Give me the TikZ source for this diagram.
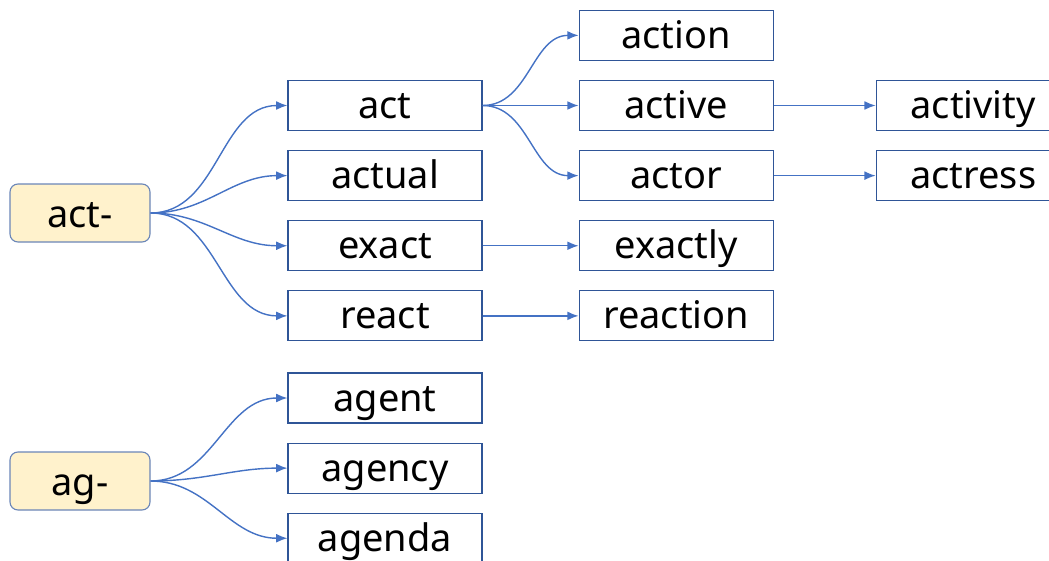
\documentclass[tikz,border=0pt]{standalone}
\usepackage{fontspec}
\setmainfont{Noto Sans}
\usepackage{xcolor}
\usepackage{tikz}
\usetikzlibrary{positioning, arrows.meta}

\definecolor{rootfill}{HTML}{FFF2CC}
\definecolor{rootline}{HTML}{6A86B8}
\definecolor{boxline}{HTML}{2F5597}
\definecolor{linkblue}{HTML}{4472C4}

\begin{document}
\begin{tikzpicture}[>={Latex[length=2.8mm,width=2.2mm]}, node distance=0.475cm,
  word/.style={draw=boxline,line width=0.8pt,minimum width=4.85cm,minimum height=1.25cm,inner sep=0pt,text height=0.75cm,text depth=0.1cm,align=center,font=\fontsize{27}{32}\selectfont},
  root/.style={draw=rootline,fill=rootfill,line width=0.8pt,rounded corners=0.2cm,minimum width=3.5cm,minimum height=1.45cm,inner sep=0pt,text height=0.8cm,text depth=0.1cm,font=\fontsize{27}{32}\selectfont},
  link/.style={->,draw=linkblue,line width=1pt}]
  \useasboundingbox (0,0) rectangle (26.225,-14.025);
  % act- family
  \node[root] (actpre) at (2,-5.325) {act-};
  \node[word] (act) at (9.625,-2.6375) {act};
  \node[word, below=of act] (actual) {actual};
  \node[word, below=of actual] (exact) {exact};
  \node[word, below=of exact] (react) {react};
  \node[word, right=2.4cm of act] (active) {active};
  \node[word, above=of active] (action) {action};
  \node[word, below=of active] (actor) {actor};
  \node[word, right=2.4cm of exact] (exactly) {exactly};
  \node[word, right=2.4cm of react] (reaction) {reaction};
  \node[word, right=2.55cm of active] (activity) {activity};
  \node[word, right=2.55cm of actor] (actress) {actress};
  % ag- family
  \node[root] (agpre) at (2,-12.025) {ag-};
  \node[word] (agent) at (9.625,-9.95) {agent};
  \node[word, below=of agent] (agency) {agency};
  \node[word, below=of agency] (agenda) {agenda};

  \foreach \w in {act, actual, exact, react}
    \draw[link] (actpre.east) to[out=0,in=180] (\w.west);
  \foreach \w in {action, actor}
    \draw[link] (act.east) to[out=0,in=180] (\w.west);
  \draw[link] (act) -- (active);
  \draw[link] (exact) -- (exactly);
  \draw[link] (react) -- (reaction);
  \draw[link] (active) -- (activity);
  \draw[link] (actor) -- (actress);
  \foreach \w in {agent, agency, agenda}
    \draw[link] (agpre.east) to[out=0,in=180] (\w.west);
\end{tikzpicture}
\end{document}
